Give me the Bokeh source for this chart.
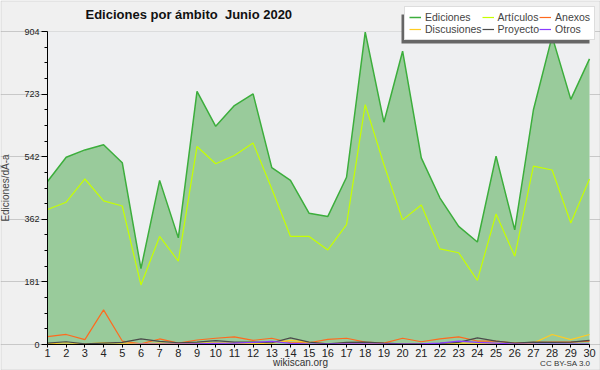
from bokeh.plotting import figure
from bokeh.models import Range1d, FixedTicker, Legend, LegendItem, Label, BoxAnnotation
from bokeh.embed import file_html
from bokeh.resources import INLINE

days = list(range(1, 31))
ediciones = [471, 541, 562, 577, 525, 219, 474, 308, 731, 630, 690, 724, 511, 474, 379,
             370, 483, 902, 642, 847, 539, 423, 341, 296, 544, 331, 678, 890, 708, 825]
articulos = [390, 411, 478, 415, 400, 172, 312, 241, 572, 522, 546, 582, 450, 312, 312,
             273, 346, 693, 520, 360, 403, 276, 265, 185, 377, 255, 515, 504, 351, 478]
anexos = [23, 29, 14, 100, 10, 2, 16, 4, 13, 18, 22, 12, 18, 5, 5,
          15, 18, 7, 4, 18, 8, 16, 22, 10, 10, 4, 6, 7, 7, 10]
discusiones = [2, 5, 2, 5, 4, 2, 4, 2, 4, 5, 4, 2, 4, 12, 7,
               2, 4, 4, 2, 2, 2, 2, 4, 4, 4, 2, 4, 29, 14, 29]
proyecto = [4, 8, 2, 4, 6, 16, 9, 5, 7, 11, 7, 7, 5, 19, 7,
            2, 6, 7, 4, 2, 2, 3, 6, 19, 10, 4, 7, 6, 7, 12]
otros = [0, 0, 0, 0, 0, 1, 1, 1, 2, 3, 4, 6, 9, 3, 1,
         1, 2, 2, 1, 1, 2, 4, 10, 6, 4, 1, 1, 1, 1, 1]
y_ticks = [0, 181, 362, 542, 723, 904]

FONT = "Liberation Sans"
W, H = 600, 370
# plot area inside the canvas (pixels)
PL, PR, PT, PB = 47, 589, 31, 344

x0, x1 = days[0], days[-1]
y0, y1 = y_ticks[0], y_ticks[-1]
sx = (PR - PL) / (x1 - x0)
sy = (PB - PT) / (y1 - y0)
x_range = Range1d(x0 - PL / sx, x1 + (W - PR) / sx)
y_range = Range1d(y0 - (H - PB) / sy, y1 + PT / sy)

p = figure(width=W, height=H, output_backend="svg", toolbar_location=None,
           x_range=x_range, y_range=y_range,
           min_border=0, min_border_left=0, min_border_right=0,
           min_border_top=0, min_border_bottom=0,
           background_fill_color="#f0f0f0", border_fill_color="#f0f0f0")
p.outline_line_color = None
p.title.visible = False

# plot-area background
p.quad(left=x0, right=x1, bottom=y0, top=y1, fill_color="#eeeff1", line_color=None)

r_ed_area = p.varea(x=days, y1=0, y2=ediciones, fill_color="#99cb9b")
r_ed = p.line(days, ediciones, line_color="#3cae3c", line_width=1.5)
r_ar = p.line(days, articulos, line_color="#c6ff00", line_width=1.2)
r_an = p.line(days, anexos, line_color="#ff6a1e", line_width=1.2)
r_di = p.line(days, discusiones, line_color="#ffcc22", line_width=1.2)
r_pr = p.line(days, proyecto, line_color="#4a4a4a", line_width=1.2)
r_ot = p.line(days, otros, line_color="#8a3cff", line_width=1.2)

# axes
p.xaxis.ticker = FixedTicker(ticks=days)
minor = []
for a, b in zip(y_ticks[:-1], y_ticks[1:]):
    minor += [a + (b - a) * i / 4 for i in range(1, 4)]
p.yaxis.ticker = FixedTicker(ticks=y_ticks, minor_ticks=minor)
p.xaxis.fixed_location = y0
p.yaxis.fixed_location = x0
p.xaxis.bounds = (x0, x1)
p.yaxis.bounds = (y0, y1)
for ax in (p.xaxis[0], p.yaxis[0]):
    ax.axis_line_color = "black"
    ax.major_tick_line_color = "black"
    ax.minor_tick_line_color = "black"
    ax.major_label_text_font = FONT
    ax.major_label_text_color = "#222222"
    ax.major_tick_in = 0
    ax.minor_tick_in = 0
p.xaxis.major_tick_out = 3
p.xaxis.minor_tick_line_color = None
p.xaxis.major_label_text_font_size = "11px"
p.xaxis.major_label_standoff = 1
p.yaxis.major_tick_out = 6
p.yaxis.minor_tick_out = 3
p.yaxis.major_label_text_font_size = "9px"
p.yaxis.major_label_standoff = 2
p.yaxis.axis_label = "Ediciones/dÃ-a"
p.yaxis.axis_label_text_font = FONT
p.yaxis.axis_label_text_font_size = "10px"
p.yaxis.axis_label_text_font_style = "normal"
p.yaxis.axis_label_standoff = 10
p.xgrid.grid_line_color = None
p.ygrid.grid_line_color = "#c8c8c8"
p.ygrid.ticker = FixedTicker(ticks=y_ticks)
p.ygrid.bounds = (x0, x1)

# title
p.add_layout(Label(x=85, y=H - 14, x_units="screen", y_units="screen",
                   text="Ediciones por ámbito\u00a0 Junio 2020",
                   text_font=FONT, text_font_size="13px", text_font_style="bold",
                   text_color="#111111", text_baseline="middle"))

# legend with shadow
shadow = BoxAnnotation(left=401, right=589, bottom=H - 43, top=H - 14,
                       left_units="screen", right_units="screen",
                       bottom_units="screen", top_units="screen",
                       fill_color="#666666", fill_alpha=1, line_color=None)
p.add_layout(shadow)

legend = Legend(items=[
    LegendItem(label="Ediciones", renderers=[r_ed]),
    LegendItem(label="Discusiones", renderers=[r_di]),
    LegendItem(label="Artículos", renderers=[r_ar]),
    LegendItem(label="Proyecto", renderers=[r_pr]),
    LegendItem(label="Anexos", renderers=[r_an]),
    LegendItem(label="Otros", renderers=[r_ot]),
], location=(404, H - 40), orientation="vertical", nrows=2,
    label_text_font=FONT, label_text_font_size="10.5px", label_height=10,
    glyph_width=12, glyph_height=10, spacing=0, padding=4, margin=0,
    label_standoff=4, background_fill_color="white", background_fill_alpha=1,
    border_line_color="#bbbbbb")
p.add_layout(legend, "center")

# footers
p.add_layout(Label(x=300, y=H - 362, x_units="screen", y_units="screen", text="wikiscan.org",
                   text_font=FONT, text_font_size="10px", text_color="#333333",
                   text_align="center", text_baseline="middle"))
p.add_layout(Label(x=590, y=H - 363, x_units="screen", y_units="screen", text="CC BY-SA 3.0",
                   text_font=FONT, text_font_size="8px", text_color="#333333",
                   text_align="right", text_baseline="middle"))

# outer border
p.add_layout(BoxAnnotation(left=0.5, right=W - 0.5, bottom=0.5, top=H - 0.5,
                           left_units="screen", right_units="screen",
                           bottom_units="screen", top_units="screen",
                           fill_alpha=0, line_color="#a0a0a0", line_width=1))

open("out.html", "w").write(file_html(p, INLINE))
